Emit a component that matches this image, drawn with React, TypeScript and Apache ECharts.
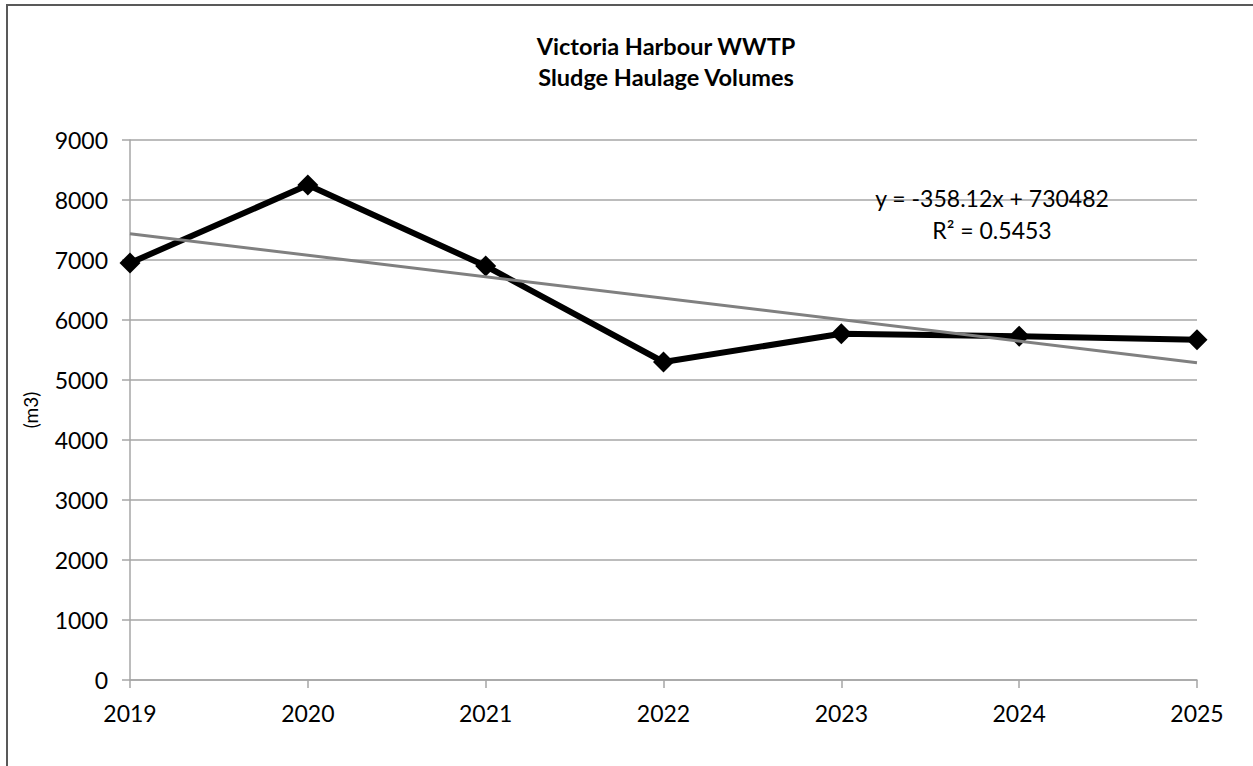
import React, { useEffect, useRef } from "react";
import * as echarts from "echarts";

const years = [2019, 2020, 2021, 2022, 2023, 2024, 2025];
const volumes = [6950, 8250, 6900, 5300, 5770, 5730, 5670];
const trendSlope = -358.12;
const trendIntercept = 730482;
const titleLines = ["Victoria Harbour WWTP", "Sludge Haulage Volumes"];
const equationLines = ["y = -358.12x + 730482", "R² = 0.5453"];
const yAxisName = "(m3)";

const FONT = "Lato, 'Noto Sans', sans-serif";

export default function App() {
  const ref = useRef<HTMLDivElement>(null);
  useEffect(() => {
    if (!ref.current) return;
    const chart = echarts.init(ref.current, null, { renderer: "svg" });
    const first = years[0];
    const last = years[years.length - 1];
    const trendData = [
      [first, trendSlope * first + trendIntercept],
      [last, trendSlope * last + trendIntercept],
    ];
    chart.setOption({
      animation: false,
      backgroundColor: "#ffffff",
      grid: { left: 130, right: 56, top: 140, bottom: 86 },
      xAxis: {
        type: "value",
        min: first,
        max: last,
        interval: 1,
        axisLine: { show: true, onZero: false, lineStyle: { color: "#a6a6a6", width: 1.5 } },
        axisTick: { show: true, length: 8, lineStyle: { color: "#a6a6a6", width: 1.5 } },
        splitLine: { show: false },
        axisLabel: { color: "#000", fontFamily: FONT, fontSize: 23, margin: 21, formatter: (v: number) => String(v) },
      },
      yAxis: {
        type: "value",
        min: 0,
        max: 9000,
        interval: 1000,
        name: yAxisName,
        nameLocation: "middle",
        nameGap: 90,
        nameTextStyle: { color: "#000", fontFamily: FONT, fontSize: 19 },
        axisLine: { show: true, lineStyle: { color: "#a6a6a6", width: 1.5 } },
        axisTick: { show: true, length: 8, lineStyle: { color: "#a6a6a6", width: 1.5 } },
        splitLine: { show: true, lineStyle: { color: "#a6a6a6", width: 1.5 } },
        axisLabel: { color: "#000", fontFamily: FONT, fontSize: 23, margin: 22, formatter: (v: number) => String(v) },
      },
      series: [
        {
          type: "line",
          data: trendData,
          symbol: "none",
          lineStyle: { color: "#808080", width: 3 },
          z: 3,
        },
        {
          type: "line",
          data: years.map((y, i) => [y, volumes[i]]),
          symbol: "diamond",
          symbolSize: [21, 21],
          itemStyle: { color: "#000" },
          lineStyle: { color: "#000", width: 6 },
          z: 2,
        },
      ],
      graphic: [
        {
          type: "rect",
          shape: { x: 7, y: 5, width: 1400, height: 900 },
          style: { fill: "none", stroke: "#595959", lineWidth: 2 },
          silent: true,
        },
        {
          type: "text",
          x: 666,
          y: 46,
          style: { text: titleLines[0], fill: "#000", font: `bold 23.5px ${FONT}`, textAlign: "center", textVerticalAlign: "middle" },
        },
        {
          type: "text",
          x: 666,
          y: 77,
          style: { text: titleLines[1], fill: "#000", font: `bold 23.5px ${FONT}`, textAlign: "center", textVerticalAlign: "middle" },
        },
        {
          type: "text",
          x: 992,
          y: 198,
          style: { text: equationLines[0], fill: "#000", font: `23px ${FONT}`, textAlign: "center", textVerticalAlign: "middle" },
          z: 10,
        },
        {
          type: "text",
          x: 992,
          y: 230,
          style: { text: equationLines[1], fill: "#000", font: `23px ${FONT}`, textAlign: "center", textVerticalAlign: "middle" },
          z: 10,
        },
      ],
    });
    return () => chart.dispose();
  }, []);
  return <div ref={ref} style={{ position: "fixed", left: 0, top: 0, width: 1253, height: 766 }} />;
}
